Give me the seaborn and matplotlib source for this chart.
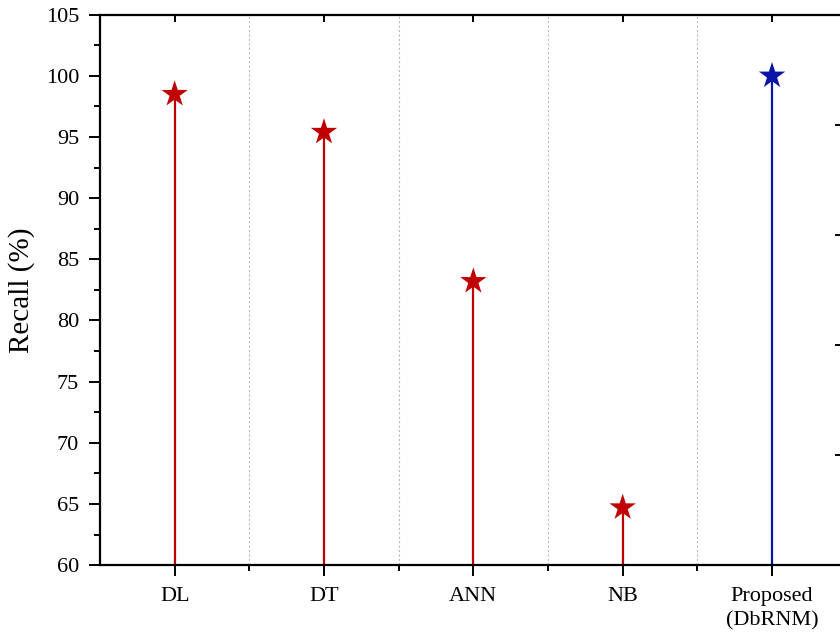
import numpy as np
import pandas as pd
import matplotlib
matplotlib.use("Agg")
import matplotlib.pyplot as plt
import seaborn as sns
from matplotlib.ticker import MultipleLocator, FixedLocator, NullFormatter

# chart data
models = ["DL", "DT", "ANN", "NB", "Proposed\n(DbRNM)"]
recall = [98.5, 95.4, 83.2, 64.7, 100.0]
group = ["other", "other", "other", "other", "proposed"]

df = pd.DataFrame({"model": models, "recall": recall, "group": group})

sns.set_style("white")
plt.rcParams["font.family"] = ["Liberation Serif", "DejaVu Serif"]
plt.rcParams["text.color"] = "black"
plt.rcParams["axes.labelcolor"] = "black"
plt.rcParams["xtick.color"] = "black"
plt.rcParams["ytick.color"] = "black"

red = "#C00000"
blue = "#0A14A8"
palette = {"other": red, "proposed": blue}

fig = plt.figure(figsize=(8.4, 6.4), dpi=100)
ax = fig.add_axes([0.119, 0.117, 0.889, 0.86])

# stems
pos = np.arange(len(models))
stem_colors = [palette[g] for g in group]
ax.vlines(pos, 60, recall, colors=stem_colors, linewidth=1.6, zorder=2)

# star heads
sns.scatterplot(data=df, x="model", y="recall", hue="group", palette=palette,
                marker="*", s=400, edgecolor="none", legend=False, ax=ax, zorder=3)

ax.set_xlim(-0.5, len(models) - 0.5)
ax.set_ylim(60, 105)
ax.yaxis.set_major_locator(MultipleLocator(5))
ax.yaxis.set_minor_locator(MultipleLocator(2.5))
ax.xaxis.set_minor_locator(FixedLocator(pos[:-1] + 0.5))

ax.set_xlabel("")
ax.set_ylabel("Recall (%)", fontsize=21, labelpad=8)
ax.tick_params(axis="both", which="major", labelsize=16, direction="out",
               length=8, width=1.4, bottom=True, left=True)
ax.tick_params(axis="both", which="minor", direction="out", length=4,
               width=1.4, bottom=True, left=True)
ax.tick_params(axis="x", which="major", pad=8)
ax.tick_params(axis="y", which="major", pad=7)
for lbl in ax.get_xticklabels():
    lbl.set_linespacing(1.35)

# inward ticks on the top spine
axt = ax.secondary_xaxis("top")
axt.set_xticks(pos)
axt.tick_params(axis="x", direction="in", length=5, width=1.4, labeltop=False)
axt.spines["top"].set_visible(False)

# dashed separators between categories
for xg in pos[:-1] + 0.5:
    ax.axvline(xg, color="#BBBBBB", linestyle=(0, (2, 2)), linewidth=0.8, zorder=1)

for sp in ax.spines.values():
    sp.set_color("black")
    sp.set_linewidth(1.6)

# right-hand axis ticks (no labels), spine falls just outside the figure
ax2 = ax.twinx()
ax2.set_ylim(0, 5)
ax2.yaxis.set_major_locator(FixedLocator([1, 2, 3, 4]))
ax2.yaxis.set_major_formatter(NullFormatter())
ax2.tick_params(axis="y", direction="in", length=9, width=1.4, color="black")
for sp in ax2.spines.values():
    sp.set_visible(False)

fig.savefig("out.png", dpi=100)
